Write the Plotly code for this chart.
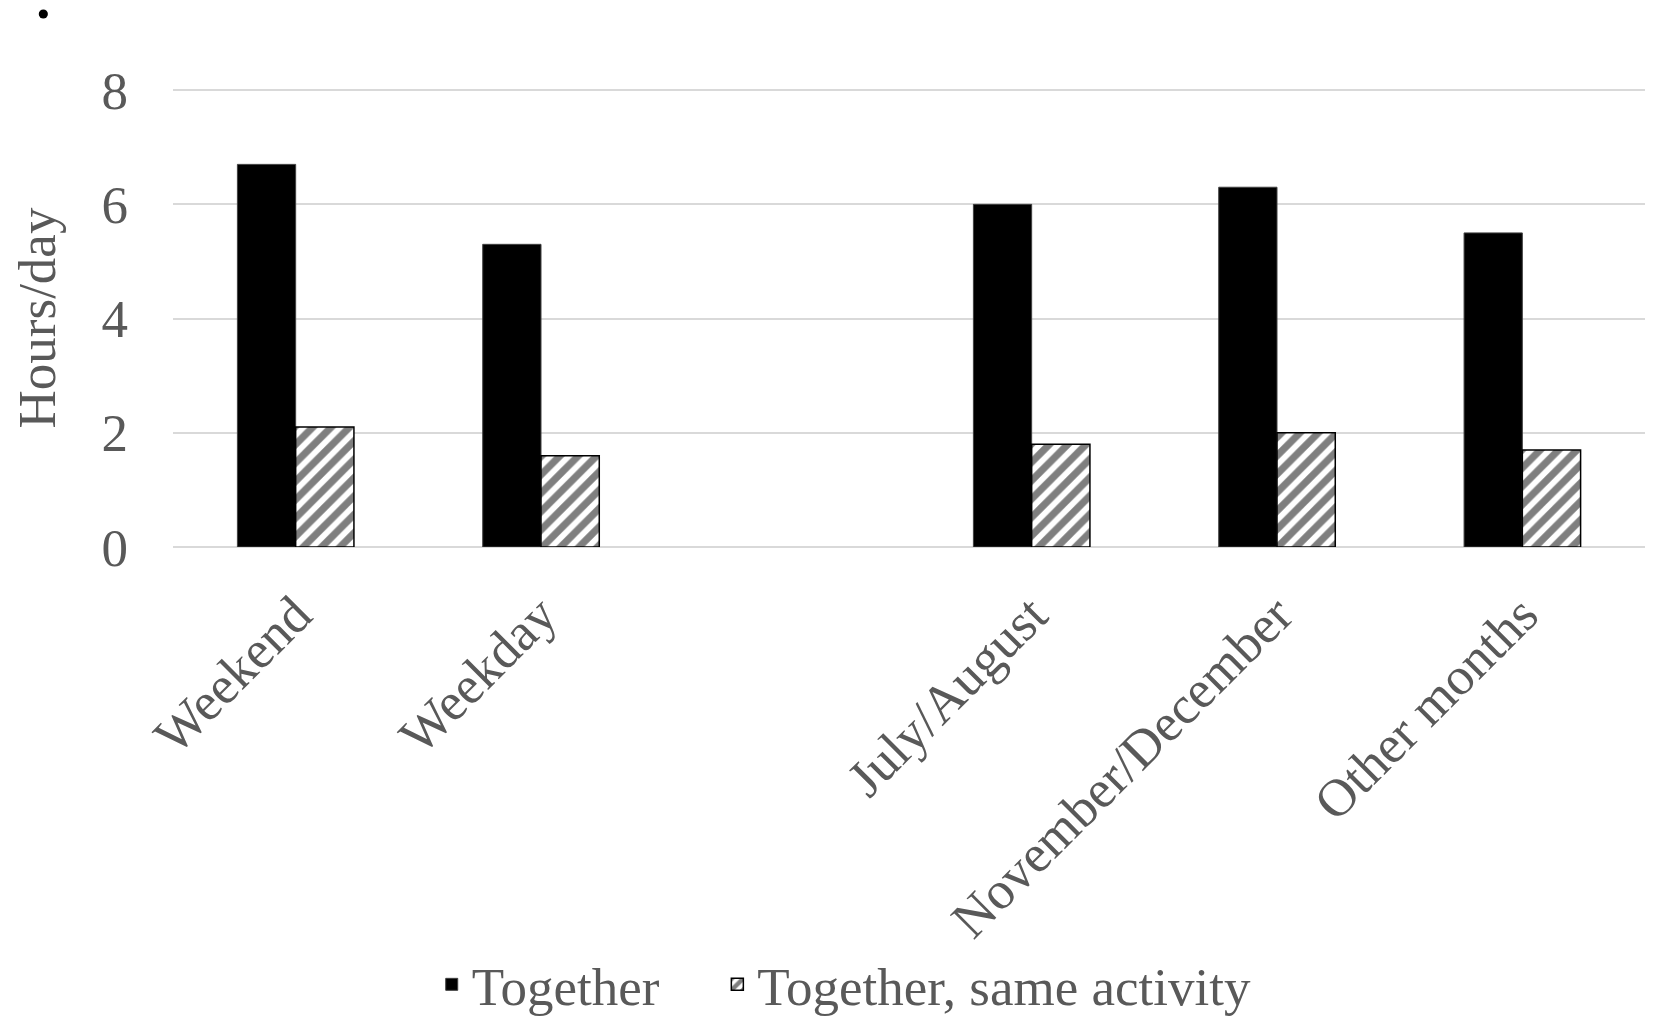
import plotly.graph_objects as go

categories = ["Weekend", "Weekday", " ", "July/August", "November/December", "Other months"]
together = [6.7, 5.3, None, 6.0, 6.3, 5.5]
same_activity = [2.1, 1.6, None, 1.8, 2.0, 1.7]
y_ticks = [0, 2, 4, 6, 8]
series_names = ["Together", "Together, same activity"]

FONT = "Liberation Serif"
GREY = "#595959"
FS = 53
PAD = "\u00a0" * 4  # spacing between legend entries

fig = go.Figure()
fig.add_trace(go.Bar(
    x=categories, y=together, name=series_names[0] + PAD,
    marker=dict(color="black", line=dict(color="#404040", width=1)),
))
fig.add_trace(go.Bar(
    x=categories, y=same_activity, name=series_names[1],
    marker=dict(color="white", line=dict(color="black", width=1.5),
                pattern=dict(shape="/", fgcolor="black", bgcolor="white",
                             size=13, solidity=0.55)),
))

# stray dot in the top-left corner of the original
fig.add_shape(type="circle", xref="paper", yref="paper",
              x0=-0.0881 - 0.0031, x1=-0.0881 + 0.0031,
              y0=1.1638 - 0.0098, y1=1.1638 + 0.0098,
              fillcolor="black", line=dict(color="black", width=0))

fig.update_layout(
    width=1637, height=1011,
    paper_bgcolor="white", plot_bgcolor="white",
    margin=dict(l=165, r=0, t=81, b=472, autoexpand=False),
    barmode="group", bargap=0.525, bargroupgap=0,
    font=dict(family=FONT, color=GREY, size=FS),
    xaxis=dict(type="category", tickangle=-45, showgrid=False,
               tickfont=dict(family=FONT, size=FS, color=GREY),
               ticks="", showline=False, automargin=False,
               ticklabelstandoff=25),
    yaxis=dict(range=[0, 8.02], tickvals=y_ticks, showgrid=True,
               gridcolor="#d9d9d9", gridwidth=2, zeroline=True,
               zerolinecolor="#d9d9d9", zerolinewidth=2,
               tickfont=dict(family=FONT, size=FS, color=GREY),
               ticklabelstandoff=44, automargin=False,
               title=dict(text="Hours/day", standoff=30,
                          font=dict(family=FONT, size=FS, color=GREY))),
    legend=dict(orientation="h", x=0.456, xanchor="center", y=-0.955, yanchor="middle",
                font=dict(family=FONT, size=FS, color=GREY),
                itemwidth=30, traceorder="normal", tracegroupgap=0),
)

fig.write_html("out.html")
